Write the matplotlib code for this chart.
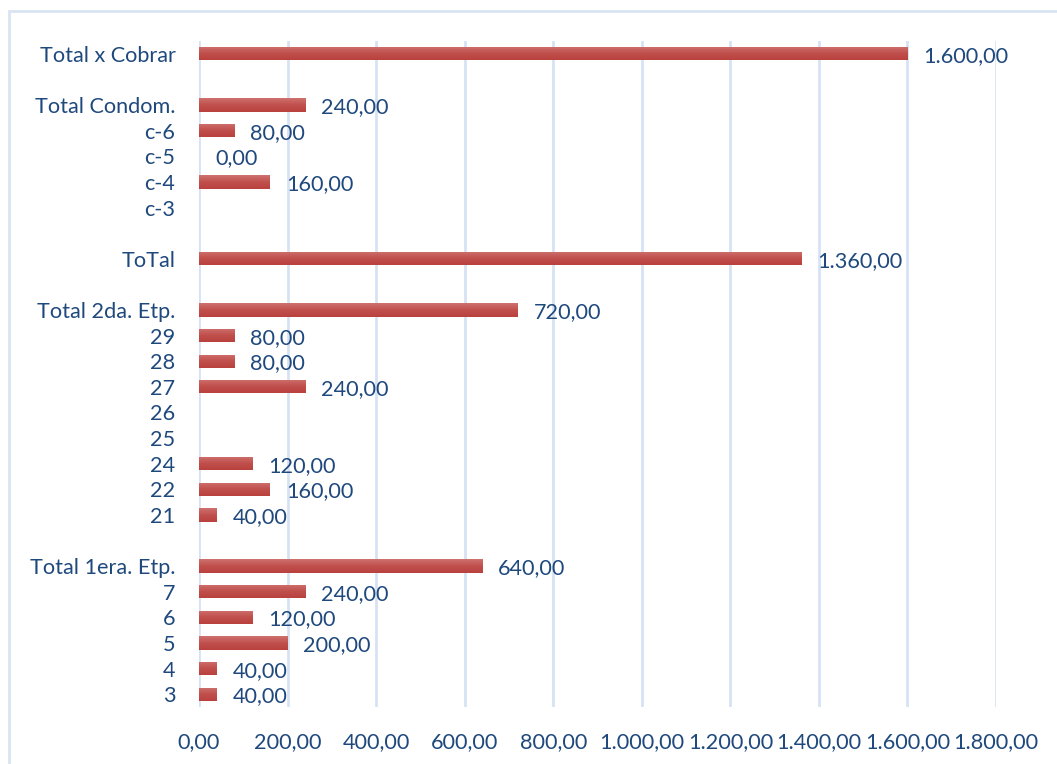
import numpy as np
import matplotlib
matplotlib.use('Agg')
import matplotlib.pyplot as plt
from matplotlib.patches import Rectangle

plt.rcParams['font.family'] = ['Lato', 'DejaVu Sans']

# rows top to bottom ('' = empty spacer row, None = no bar / no label)
labels = ['Total x Cobrar', '', 'Total Condom.', 'c-6', 'c-5', 'c-4', 'c-3', '',
          'ToTal', '', 'Total 2da. Etp.', '29', '28', '27', '26', '25', '24', '22', '21', '',
          'Total 1era. Etp.', '7', '6', '5', '4', '3']
values = [1600, None, 240, 80, 0, 160, None, None,
          1360, None, 720, 80, 80, 240, None, None, 120, 160, 40, None,
          640, 240, 120, 200, 40, 40]
xticks = [0, 200, 400, 600, 800, 1000, 1200, 1400, 1600, 1800]

text_col = '#1F497D'
grid_col = '#D6E2F4'
fs = 15.6


def fmt(v):
    s = f'{v:,.2f}'
    return s.replace(',', 'X').replace('.', ',').replace('X', '.')


W, H = 1057, 764
fig = plt.figure(figsize=(W / 100, H / 100), dpi=100)
fig.patches.append(Rectangle((9 / W, -0.1), 1.2, 1 - 11 / H + 0.1, transform=fig.transFigure,
                             fill=False, edgecolor='#D9E3F2', lw=2))

ax = fig.add_axes([199 / W, 1 - 707 / H, (996 - 199) / W, (707 - 41) / H])
n = len(labels)
ypos = np.arange(n)
vals = np.array([0 if v is None else v for v in values], dtype=float)

bars = ax.barh(ypos, vals, height=0.52, color='#C0504D', zorder=3)

# soft vertical gradient like the Excel bar fill
grad = np.linspace(0, 1, 50).reshape(-1, 1)
cmap = matplotlib.colors.LinearSegmentedColormap.from_list('g', ['#CE716E', '#C0504D', '#B9413E'])
for b, v in zip(bars, values):
    if not v:
        continue
    x0, y0, w, h = b.get_x(), b.get_y(), b.get_width(), b.get_height()
    im = ax.imshow(grad, extent=(x0, x0 + w, y0 + h, y0), aspect='auto', cmap=cmap, zorder=4)
    im.set_clip_path(b)

for y, v in zip(ypos, values):
    if v is None:
        continue
    ax.text(v + 36, y + 0.08, fmt(v), va='center', ha='left', color=text_col, fontsize=fs)

ax.set_xlim(0, 1800)
ax.set_ylim(n - 0.5, -0.5)
ax.set_xticks(xticks)
ax.set_xticklabels([fmt(t) for t in xticks])
ax.set_yticks(ypos)
ax.set_yticklabels(labels)
ax.tick_params(axis='both', length=0, labelsize=fs, labelcolor=text_col)
ax.tick_params(axis='x', pad=18)
ax.tick_params(axis='y', pad=17)
ax.grid(axis='x', color=grid_col, lw=2, zorder=0)
for s in ax.spines.values():
    s.set_visible(False)
ax.set_axisbelow(True)

fig.savefig('out.png', dpi=100)
